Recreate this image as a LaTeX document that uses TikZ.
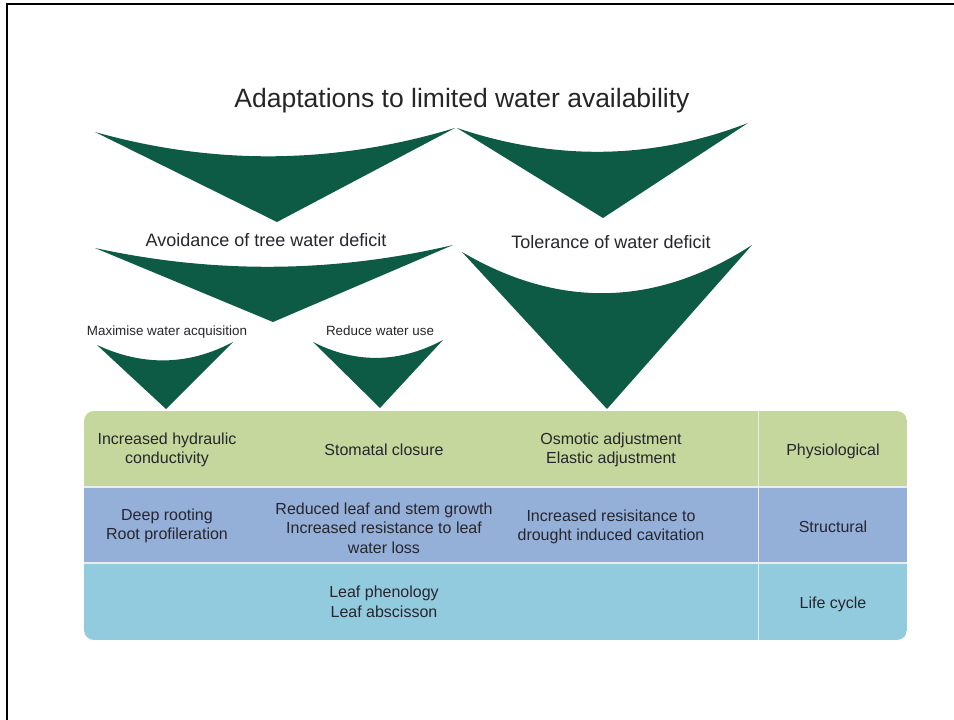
\documentclass[tikz,border=0pt]{standalone}
\usepackage{fontspec}
\setmainfont{Liberation Sans}
\definecolor{wedgegreen}{HTML}{0D5A45}
\definecolor{physrow}{HTML}{C6D79D}
\definecolor{structrow}{HTML}{94AFD8}
\definecolor{liferow}{HTML}{93CBDE}
\definecolor{inktext}{HTML}{26262E}
\tikzset{
  wedge/.style={fill=wedgegreen},
  title/.style={font=\fontsize{26.5}{30}\selectfont, text=black!85},
  branch/.style={font=\fontsize{18}{21}\selectfont, text=inktext},
  twig/.style={font=\fontsize{13.4}{16}\selectfont, text=inktext},
  cell/.style={font=\fontsize{16}{19.5}\selectfont, text=inktext, align=center},
  rowline/.style={white!85!gray, line width=1.5pt}
}
\begin{document}
\begin{tikzpicture}[x=1pt, y=-1pt]
    \useasboundingbox (0, 0) rectangle (954, 720);
    \fill[white] (0, 0) rectangle (954, 720);

    % frame
    \draw[line width=2.5pt] (7, 720) -- (7, 4) -- (954, 4);

    % title
    \node[title] (adapt) at (462, 101) {Adaptations to limited water availability};

        % upper wedges
        \fill[wedge] (95, 132) .. controls (216, 166) and (336, 164) .. (455, 128) -- (277, 222) -- cycle;
        \fill[wedge] (457, 128) .. controls (555, 161) and (652, 160) .. (748, 123) -- (603, 218) -- cycle;

    \node[branch] (avoid) at (266, 240) {Avoidance of tree water deficit};
    \node[branch] (toler) at (611, 242) {Tolerance of water deficit};

        % middle wedges
        \fill[wedge] (95, 248) .. controls (214, 274) and (334, 273) .. (453, 245) -- (273, 322) -- cycle;
        \fill[wedge] (462, 252) .. controls (559, 309) and (656, 307) .. (752, 245) -- (607, 409) -- cycle;

    \node[twig] (maxim) at (167, 332) {Maximise water acquisition};
    \node[twig] (reduce) at (380, 331) {Reduce water use};

        % lower wedges
        \fill[wedge] (97, 345) .. controls (142, 366) and (188, 366) .. (233, 342) -- (166, 409) -- cycle;
        \fill[wedge] (313, 342) .. controls (356, 364) and (400, 363) .. (443, 340) -- (380, 408) -- cycle;

    % table
    \begin{scope}
        \clip[rounded corners=10pt] (84, 411) rectangle (907, 640);
        \fill[physrow] (84, 411) rectangle (907, 487);
        \fill[structrow] (84, 487) rectangle (907, 563);
        \fill[liferow] (84, 563) rectangle (907, 640);
    \end{scope}
        \draw[rowline] (84, 487) -- (907, 487);
        \draw[rowline] (84, 563) -- (907, 563);
        \draw[rowline, line width=1pt] (758, 411) -- (758, 640);

    \node[cell] (hydr) at (167, 450) {Increased hydraulic\\conductivity};
    \node[cell] (stoma) at (384, 450) {Stomatal closure};
    \node[cell] (osmo) at (611, 450) {Osmotic adjustment\\Elastic adjustment};
    \node[cell] (physio) at (833, 451) {Physiological};

    \node[cell] (roots) at (167, 526) {Deep rooting\\Root profileration};
    \node[cell] (leafgr) at (384, 528) {Reduced leaf and stem growth\\Increased resistance to leaf\\water loss};
    \node[cell] (cavit) at (611, 527) {Increased resisitance to\\drought induced cavitation};
    \node[cell] (struct) at (833, 527) {Structural};

    \node[cell] (pheno) at (384, 602) {Leaf phenology\\Leaf abscisson};
    \node[cell] (cycle) at (833, 604) {Life cycle};
\end{tikzpicture}
\end{document}
